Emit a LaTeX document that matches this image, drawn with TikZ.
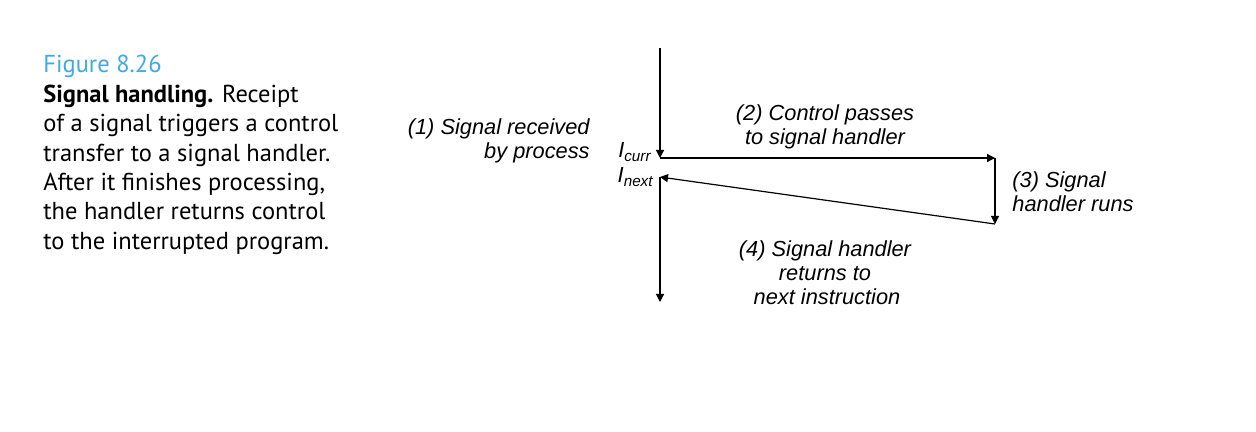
\documentclass[tikz,border=0pt]{standalone}
\usepackage{fontspec}
\setmainfont{Liberation Sans}
\newfontfamily\capfont{PT Sans}
\usetikzlibrary{arrows.meta}
\definecolor{figblue}{HTML}{3FA9E6}
\begin{document}
\begin{tikzpicture}[x=0.5pt,y=-0.5pt,
  arr/.style={-{Triangle[length=4pt,width=4pt]},line width=0.6pt},
  lbl/.style={font=\fontsize{10.9}{12}\selectfont\itshape,inner sep=0pt},
  captext/.style={font=\capfont\fontsize{12.25}{14}\selectfont,inner sep=0pt,anchor=base west}]
\useasboundingbox (0,0) rectangle (1256,432);
% caption
\node[captext,text=figblue] (c0) at (43,73) {Figure 8.26};
\node[captext] (c1) at (43,103) {\textbf{Signal handling.} Receipt};
\node[captext] (c2) at (43,132) {of a signal triggers a control};
\node[captext] (c3) at (43,162) {transfer to a signal handler.};
\node[captext] (c4) at (43,191) {After it finishes processing,};
\node[captext] (c5) at (43,220) {the handler returns control};
\node[captext] (c6) at (43,250) {to the interrupted program.};
% points
\coordinate (top) at (660,48);
\coordinate (curr) at (660,158);
\coordinate (hr) at (995,158);
\coordinate (hb) at (995,224);
\coordinate (next) at (660,177);
\coordinate (bot) at (660,302);
\draw[arr] (top) -- (curr);
\draw[arr] (curr) -- (hr);
\draw[arr] (hr) -- (hb);
\draw[arr] (hb) -- (next);
\draw[arr] (next) -- (bot);
% labels
\node[lbl,anchor=base east] (l1) at (590,135) {(1) Signal received};
\node[lbl,anchor=base east] (l1b) at (590,159) {by process};
\node[lbl,anchor=base] (l2) at (825,121) {(2) Control passes};
\node[lbl,anchor=base] (l2b) at (825,145) {to signal handler};
\node[lbl,anchor=base west] (l3) at (1012,188) {(3) Signal};
\node[lbl,anchor=base west] (l3b) at (1012,212) {handler runs};
\node[lbl,anchor=base] (l4) at (825,257) {(4) Signal handler};
\node[lbl,anchor=base] (l4b) at (825,281) {returns to};
\node[lbl,anchor=base] (l4c) at (827,305) {next instruction};
\node[lbl,anchor=base east] (ic) at (652,158) {I\textsubscript{curr}};
\node[lbl,anchor=base east] (in) at (654,183) {I\textsubscript{next}};
\end{tikzpicture}
\end{document}
